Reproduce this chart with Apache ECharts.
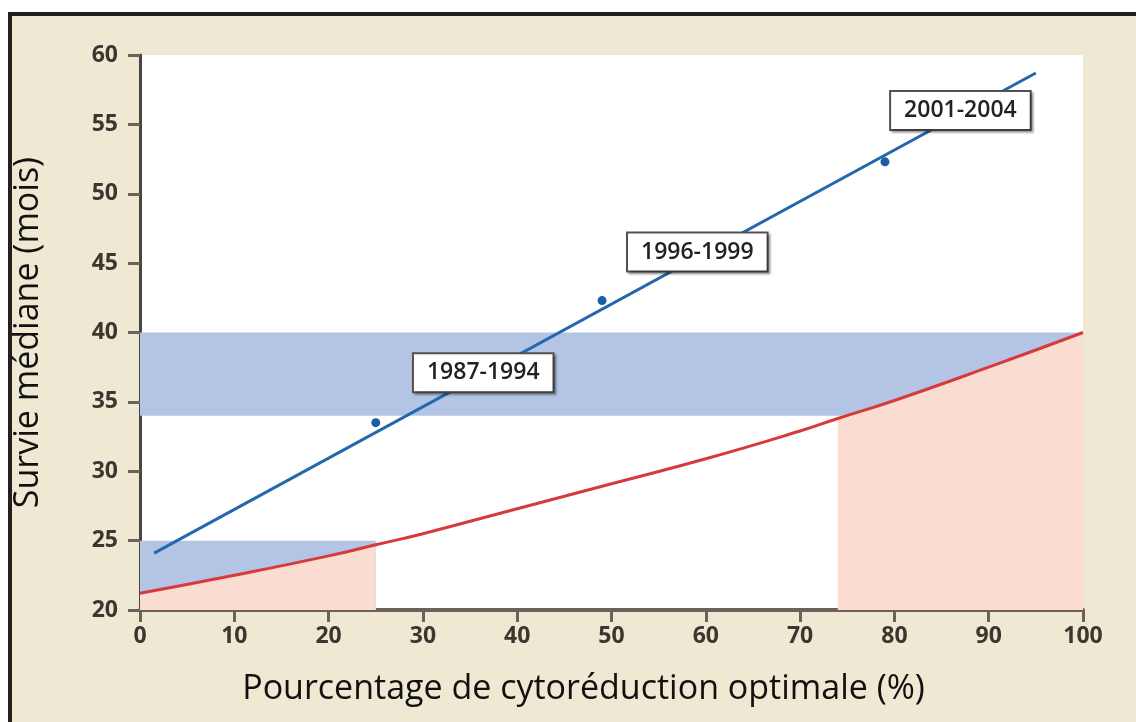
<!DOCTYPE html>
<html>
<head>
<meta charset="utf-8">
<script src="https://cdn.jsdelivr.net/npm/echarts@6/dist/echarts.min.js"></script>
<style>
  html, body { margin: 0; padding: 0; background: #fff; overflow: hidden; }
  #wrap { position: relative; width: 1136px; height: 722px; overflow: hidden; }
  #frame { position: absolute; left: 8px; top: 12px; width: 1140px; height: 730px;
           border-top: 4px solid #221f1c; border-left: 4px solid #221f1c; background: #efe8d2; }
  #chart { position: absolute; left: 0; top: 0; width: 1136px; height: 722px; }
</style>
</head>
<body>
<div id="wrap">
  <div id="frame"></div>
  <div id="chart"></div>
</div>
<script>
// courbe rouge (valeur attendue)
var curveX = [0, 10, 20, 25, 30, 40, 50, 60, 70, 74, 80, 90, 100];
var curveY = [21.2, 22.5, 23.9, 24.7, 25.5, 27.3, 29.1, 30.9, 32.9, 33.8, 35.1, 37.5, 40.0];
// droite de régression bleue
var fitX = [1.5, 95];
var fitY = [24.1, 58.7];
// points observés
var obsX = [25, 49, 79];
var obsY = [33.5, 42.3, 52.3];
// étiquettes des périodes
var periods = ['1987-1994', '1996-1999', '2001-2004'];
var periodX = [36.4, 59.1, 87.0];
var periodY = [37.1, 45.8, 56.0];
// bandes
var bandHigh = [34, 40];
var bandLow = [20, 25];
var pinkLeft = [0, 25];
var pinkRight = [74, 100];

function pairs(xs, ys) {
  return xs.map(function (x, i) { return [x, ys[i]]; });
}
function curveRange(r) {
  return pairs(curveX, curveY).filter(function (p) { return p[0] >= r[0] && p[0] <= r[1]; });
}

var tickFont = { fontFamily: 'Open Sans', fontWeight: 'bold', fontSize: 23, color: '#3b3630' };

var myChart = echarts.init(document.getElementById('chart'));
var option = {
  backgroundColor: 'transparent',
  animation: false,
  grid: {
    left: 140, right: 53, top: 55, bottom: 112,
    show: true, backgroundColor: '#ffffff', borderWidth: 0
  },
  xAxis: {
    type: 'value', min: 0, max: 100, interval: 10,
    name: 'Pourcentage de cytoréduction optimale (%)',
    nameLocation: 'middle', nameGap: 62,
    nameTextStyle: { fontFamily: 'Open Sans', fontSize: 34, color: '#111', padding: [0, 56, 0, 0] },
    axisLine: { show: true, lineStyle: { color: '#6b625a', width: 4 } },
    axisTick: { show: true, length: 12, lineStyle: { color: '#6b625a', width: 3 } },
    axisLabel: Object.assign({ margin: 15 }, tickFont),
    splitLine: { show: false }
  },
  yAxis: {
    type: 'value', min: 20, max: 60, interval: 5,
    name: 'Survie médiane (mois)',
    nameLocation: 'middle', nameGap: 95,
    nameTextStyle: { fontFamily: 'Open Sans', fontSize: 34, color: '#111' },
    axisLine: { show: true, lineStyle: { color: '#4a4540', width: 3 } },
    axisTick: { show: true, length: 12, lineStyle: { color: '#6b625a', width: 3 } },
    axisLabel: Object.assign({ margin: 22 }, tickFont),
    splitLine: { show: false }
  },
  series: [
    {
      // bandes bleues
      type: 'line', data: [], z: 1,
      markArea: {
        silent: true,
        itemStyle: { color: '#b4c4e4' },
        data: [
          [{ xAxis: 0, yAxis: bandHigh[0] }, { xAxis: 100, yAxis: bandHigh[1] }],
          [{ xAxis: pinkLeft[0], yAxis: bandLow[0] }, { xAxis: pinkLeft[1], yAxis: bandLow[1] }]
        ]
      }
    },
    {
      type: 'line', data: curveRange(pinkLeft), smooth: true, symbol: 'none', z: 2,
      lineStyle: { width: 0 }, areaStyle: { color: '#fbdcd0', opacity: 1 }
    },
    {
      type: 'line', data: curveRange(pinkRight), smooth: true, symbol: 'none', z: 2,
      lineStyle: { width: 0 }, areaStyle: { color: '#fbdcd0', opacity: 1 }
    },
    {
      type: 'line', data: pairs(curveX, curveY), smooth: true, symbol: 'none', z: 3,
      lineStyle: { color: '#d63a3c', width: 3 }
    },
    {
      type: 'line', data: pairs(fitX, fitY), symbol: 'none', z: 4,
      lineStyle: { color: '#2467ad', width: 3 }
    },
    {
      type: 'scatter', data: pairs(obsX, obsY), symbolSize: 9, z: 5,
      itemStyle: { color: '#1c5ea6', opacity: 1 }
    },
    {
      type: 'scatter', z: 6, symbolSize: 0,
      itemStyle: { opacity: 1 },
      data: periods.map(function (p, i) { return { name: p, value: [periodX[i], periodY[i]] }; }),
      label: {
        show: true, position: 'inside', formatter: '{b}',
        fontFamily: 'Open Sans', fontWeight: 600, fontSize: 23, color: '#222',
        backgroundColor: '#ffffff', borderColor: '#55504b', borderWidth: 2,
        padding: [8, 13, 6, 13],
        shadowColor: 'rgba(0,0,0,0.3)', shadowOffsetX: 2, shadowOffsetY: 2, shadowBlur: 2
      }
    }
  ]
};
myChart.setOption(option);
</script>
</body>
</html>
